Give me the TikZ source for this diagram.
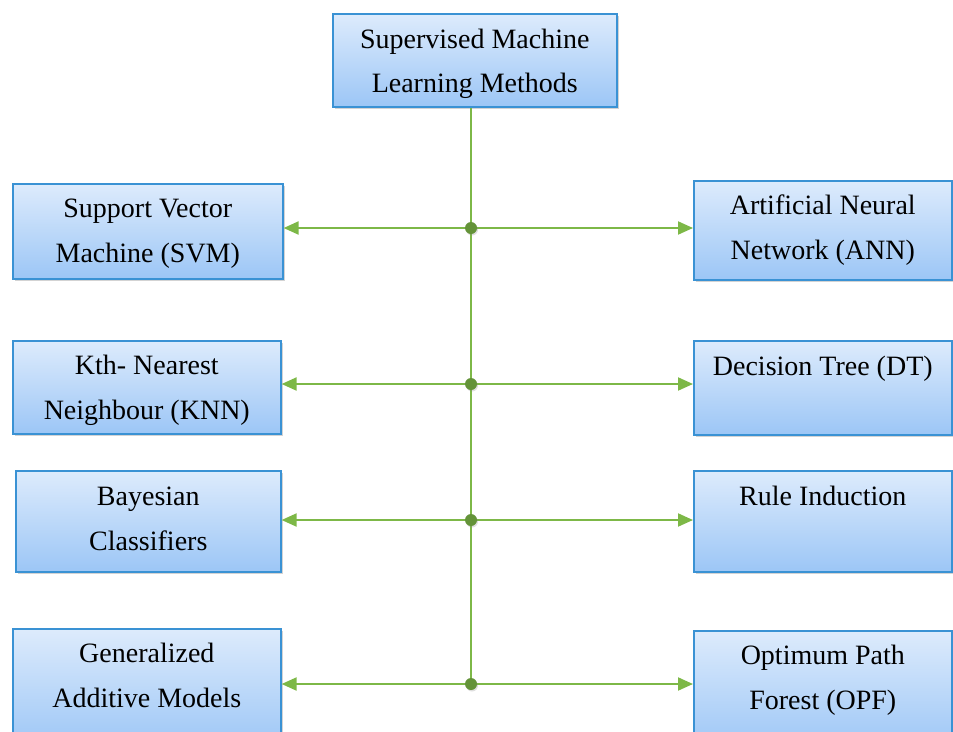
\documentclass[tikz,border=0pt]{standalone}
\usepackage{fontspec}
\setmainfont{Liberation Serif}
\usetikzlibrary{arrows.meta,shadows}
\definecolor{boxtop}{HTML}{DDEBFC}
\definecolor{boxbot}{HTML}{9CC6F6}
\definecolor{boxline}{HTML}{3A92D4}
\definecolor{linkgreen}{HTML}{7DB847}
\tikzset{
  box/.style={rectangle, draw=boxline, line width=1.6pt, top color=boxtop,
    bottom color=boxbot, inner sep=0pt, anchor=north west,
    drop shadow={shadow xshift=2.5pt, shadow yshift=-2.5pt, opacity=0.35}},
  lbl/.style={align=center, inner sep=0pt, anchor=center,
    font=\fontsize{28}{44.5}\selectfont, text=black},
  conn/.style={draw=linkgreen, line width=2pt,
    -{Triangle[length=15pt,width=13pt]}},
  trunk/.style={draw=linkgreen, line width=2pt},
  dot/.style={circle, fill=linkgreen!80!black, inner sep=0pt, minimum size=12pt,
    drop shadow={shadow xshift=1pt, shadow yshift=-1.5pt, opacity=0.25}}
}
\begin{document}
\begin{tikzpicture}[x=1pt,y=-1pt]
\useasboundingbox (0,0) rectangle (953,731);
\clip (0,0) rectangle (953,731);

% boxes
\node[box, minimum width=284pt, minimum height=93pt] (top) at (332,13) {};
\node[box, minimum width=270pt, minimum height=95pt] (svm) at (12,183) {};
\node[box, minimum width=258pt, minimum height=99pt] (ann) at (693,180) {};
\node[box, minimum width=268pt, minimum height=93pt] (knn) at (12,340) {};
\node[box, minimum width=258pt, minimum height=94pt] (dt) at (693,340) {};
\node[box, minimum width=265pt, minimum height=101pt] (bay) at (15,470) {};
\node[box, minimum width=258pt, minimum height=101pt] (rule) at (693,470) {};
\node[box, minimum width=268pt, minimum height=120pt] (gam) at (12,628) {};
\node[box, minimum width=258pt, minimum height=120pt] (opf) at (693,630) {};

% labels, two text lines starting at a fixed offset below each box top
\node[lbl] (topt) at ([yshift=-48.5pt]top.north) {\strut Supervised Machine\\\strut Learning Methods};
\node[lbl] (svmt) at ([yshift=-48pt]svm.north) {\strut Support Vector\\\strut Machine (SVM)};
\node[lbl] (annt) at ([yshift=-48pt]ann.north) {\strut Artificial Neural\\\strut Network (ANN)};
\node[lbl] (knnt) at ([yshift=-48pt]knn.north) {\strut Kth- Nearest\\\strut Neighbour (KNN)};
\node[lbl] (dtt) at ([yshift=-49pt]dt.north) {\strut Decision Tree (DT)\\\strut};
\node[lbl] (bayt) at ([yshift=-49pt]bay.north) {\strut Bayesian\\\strut Classifiers};
\node[lbl] (rulet) at ([yshift=-49pt]rule.north) {\strut Rule Induction\\\strut};
\node[lbl] (gamt) at ([yshift=-48pt]gam.north) {\strut Generalized\\\strut Additive Models};
\node[lbl] (opft) at ([yshift=-48pt]opf.north) {\strut Optimum Path\\\strut Forest (OPF)};

% junctions on the trunk
\coordinate (j1) at (471,228);
\coordinate (j2) at (471,384);
\coordinate (j3) at (471,520);
\coordinate (j4) at (471,684);

% trunk and branches
\draw[trunk] (j1 |- top.south) -- (j4);
\foreach \j/\l/\r in {j1/svm/ann, j2/knn/dt, j3/bay/rule, j4/gam/opf}{
  \draw[conn] (\j) -- (\j -| \l.east);
  \draw[conn] (\j) -- (\j -| \r.west);
}
\foreach \j in {j1,j2,j3,j4}{
  \node[dot] (d\j) at (\j) {};
}
\end{tikzpicture}
\end{document}
